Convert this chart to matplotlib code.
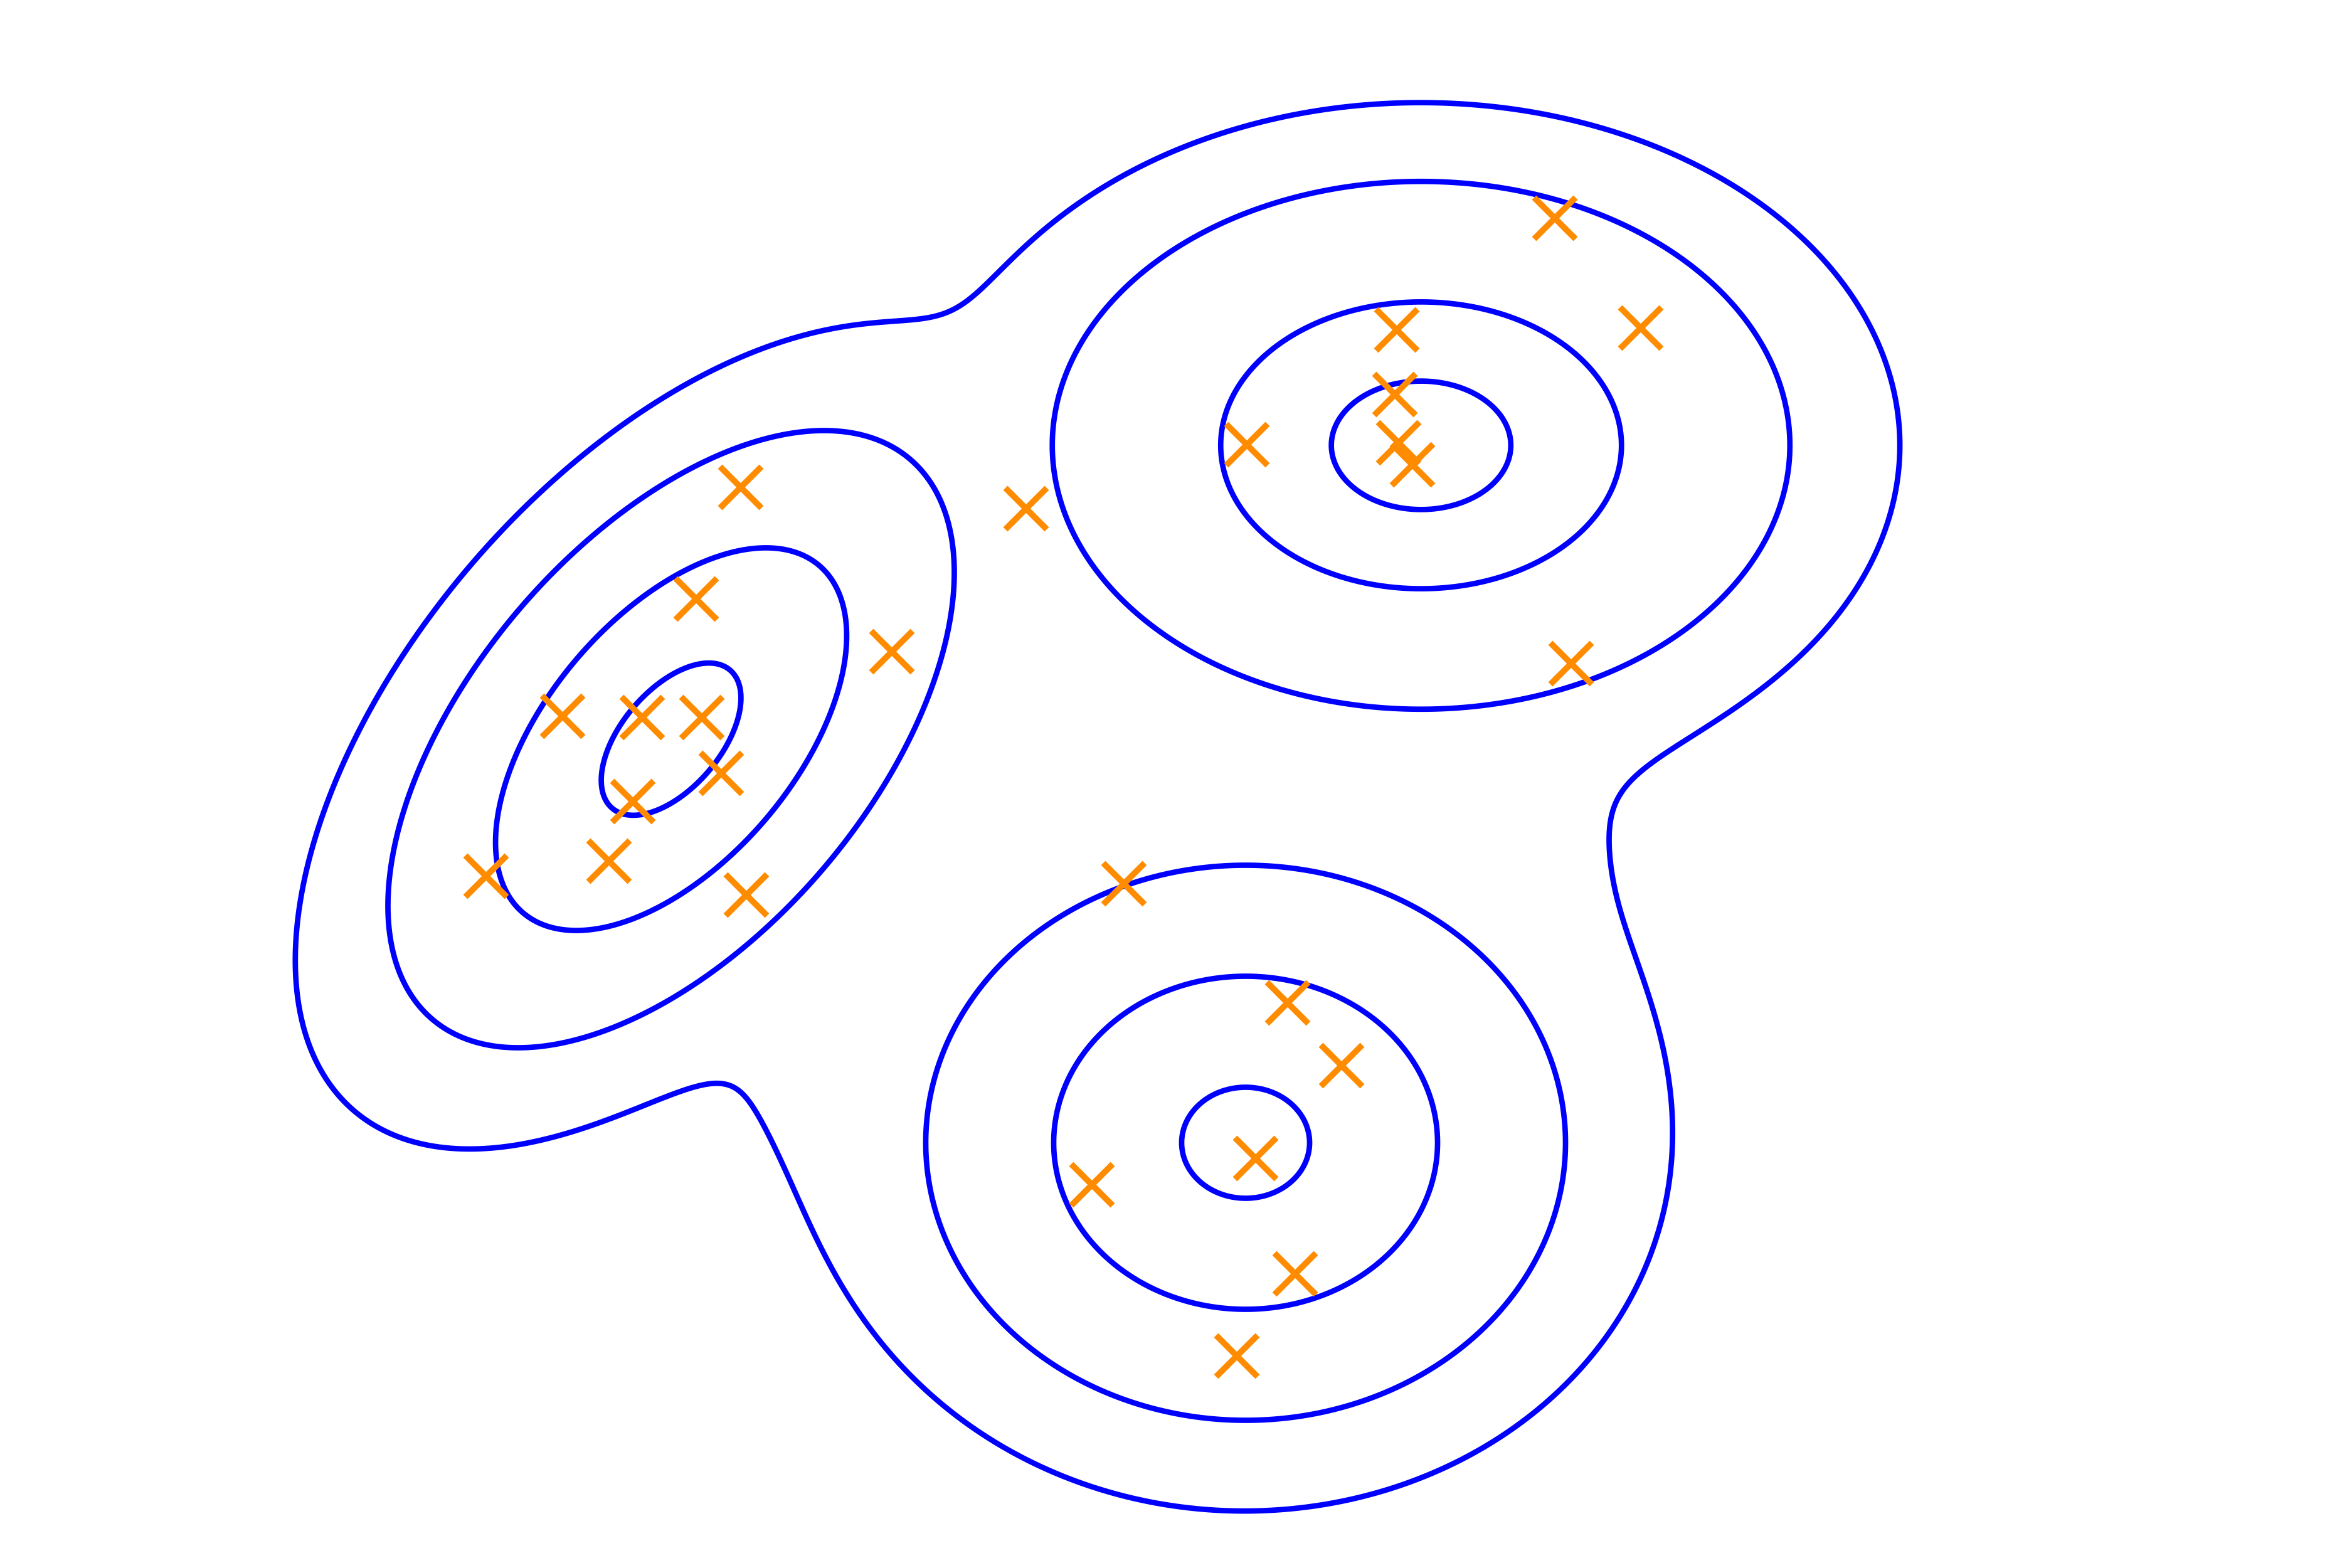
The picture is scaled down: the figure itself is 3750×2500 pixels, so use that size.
import numpy as np
import matplotlib.pyplot as plt

# ---------------------------------------------------------------------------
# Gaussian mixture (units = inches of the 15x10 canvas)
# order: left cluster, top-right cluster, bottom cluster, broad background
# ---------------------------------------------------------------------------
means_x = [4.28, 9.063, 7.944, 7.27]
means_y = [5.286, 7.16, 2.712, 4.643]
sigma_x = [0.602, 0.784, 0.680, 1.244]
sigma_y = [0.656, 0.561, 0.590, 1.244]
rho     = [0.54, 0.0, 0.0, 0.0]
weights = [0.323, 0.304, 0.374, 0.0092]

# Mahalanobis radii of the drawn ellipses (first three components only)
contour_sigmas = [
    [0.74, 1.86, 3.0],
    [0.73, 1.63, 3.0],
    [0.60, 1.80, 3.0],
]

# density level of the outer envelope around all clusters
envelope_level = 5.6e-5

# observed data points
pts_x = [4.724, 4.438, 5.686, 3.588, 4.095, 4.474, 4.598, 4.036, 3.882, 3.099, 4.760,
         6.544,
         9.916, 10.464, 8.908, 8.895, 7.952, 8.921, 9.007, 10.021,
         7.167, 8.212, 8.555, 8.009, 6.965, 8.258, 7.889]
pts_y = [6.891, 6.181, 5.846, 5.431, 5.423, 5.423, 5.070, 4.888, 4.507, 4.414, 4.293,
         6.756,
         8.610, 7.909, 7.898, 7.485, 7.163, 7.175, 7.037, 5.767,
         4.365, 3.606, 3.204, 2.613, 2.443, 1.878, 1.352]

LINE_COLOR = '#0000ff'
POINT_COLOR = '#ff8c00'


def mahalanobis(X, Y, k):
    dx = (X - means_x[k]) / sigma_x[k]
    dy = (Y - means_y[k]) / sigma_y[k]
    r = rho[k]
    return np.sqrt((dx**2 - 2 * r * dx * dy + dy**2) / (1 - r**2))


def component_pdf(X, Y, k):
    d = mahalanobis(X, Y, k)
    norm = 2 * np.pi * sigma_x[k] * sigma_y[k] * np.sqrt(1 - rho[k]**2)
    return weights[k] * np.exp(-0.5 * d**2) / norm


xs = np.linspace(0, 15, 1500)
ys = np.linspace(0, 10, 1000)
X, Y = np.meshgrid(xs, ys)

fig = plt.figure(figsize=(15, 10), dpi=250)
ax = fig.add_axes([0, 0, 1, 1])

density = np.zeros_like(X)
for k in range(len(weights)):
    density += component_pdf(X, Y, k)

for k, radii in enumerate(contour_sigmas):
    ax.contour(X, Y, mahalanobis(X, Y, k), levels=radii,
               colors=LINE_COLOR, linewidths=2.5)

ax.contour(X, Y, density, levels=[envelope_level],
           colors=LINE_COLOR, linewidths=2.5)

ax.plot(pts_x, pts_y, 'x', color=POINT_COLOR, ms=19, mew=2.8, zorder=3)

ax.set_xlim(0, 15)
ax.set_ylim(0, 10)
ax.axis('off')

fig.savefig('out.png', dpi=250)
